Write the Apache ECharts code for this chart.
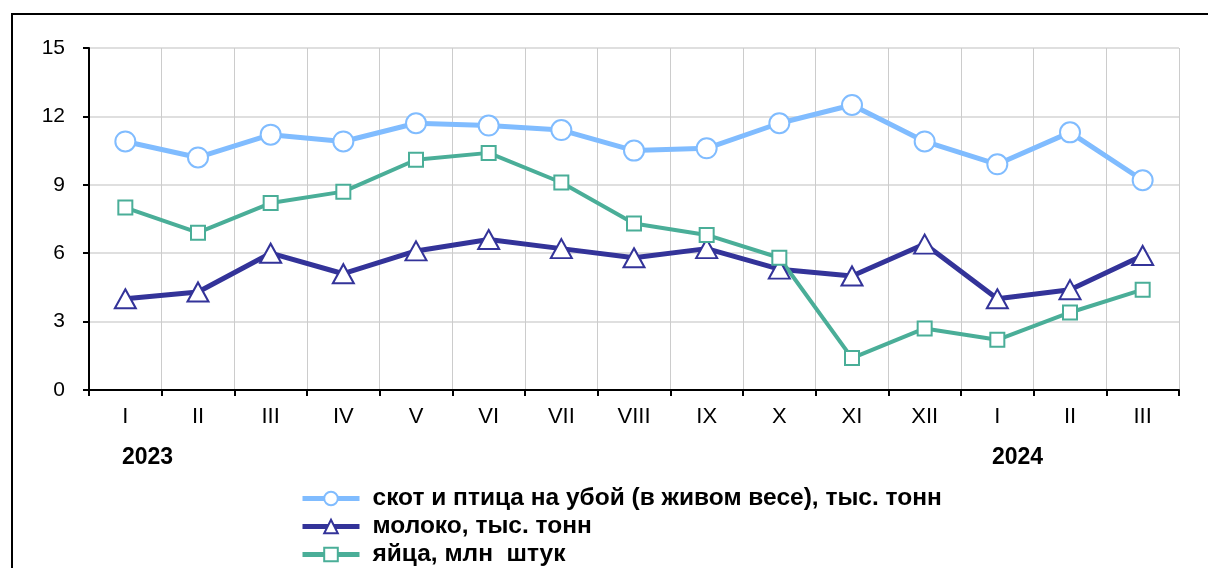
<!DOCTYPE html>
<html><head><meta charset="utf-8">
<script src="https://cdn.jsdelivr.net/npm/echarts@6/dist/echarts.min.js"></script>
<style>html,body{margin:0;padding:0;background:#fff}#c{width:1208px;height:568px}</style>
</head><body><div id="c"></div>
<script>
const categories = ['I','II','III','IV','V','VI','VII','VIII','IX','X','XI','XII','I','II','III'];
const yearLabels = ['2023','2024'];
const livestock = [10.9,10.2,11.2,10.9,11.7,11.6,11.4,10.5,10.6,11.7,12.5,10.9,9.9,11.3,9.2];
const milk = [4.0,4.3,6.0,5.1,6.1,6.6,6.2,5.8,6.2,5.3,5.0,6.4,4.0,4.4,5.9];
const eggs = [8.0,6.9,8.2,8.7,10.1,10.4,9.1,7.3,6.8,5.8,1.4,2.7,2.2,3.4,4.4];
const seriesNames = ['скот и птица на убой (в живом весе), тыс. тонн','молоко, тыс. тонн','яйца, млн  штук'];

const chart = echarts.init(document.getElementById('c'), null, {renderer:'canvas'});
const font = 'Arial, "Liberation Sans", sans-serif';
const legendTops = [481, 509, 537];
const legends = seriesNames.map((n, i) => ({
  orient:'vertical', left:295, top:legendTops[i], itemWidth:57, itemHeight:17,
  lineStyle:{width:5},
  textStyle:{color:'#000',fontSize:24.5,fontWeight:'bold',fontFamily:font,padding:[0,0,0,8]},
  data:[n]
}));
chart.setOption({
  animation:false,
  backgroundColor:'#fff',
  grid:{left:89,right:29,top:48,bottom:178},
  xAxis:{type:'category',data:categories,boundaryGap:true,
    axisLine:{lineStyle:{color:'#000',width:2}},
    axisTick:{show:true,length:6,lineStyle:{color:'#000',width:2}},
    axisLabel:{color:'#000',fontSize:22,fontFamily:font,margin:16},
    splitLine:{show:true,lineStyle:{color:'#cccccc',width:1}}},
  yAxis:{type:'value',min:0,max:15,interval:3,
    axisLine:{show:true,lineStyle:{color:'#000',width:2}},
    axisTick:{show:true,length:6,lineStyle:{color:'#000',width:2}},
    axisLabel:{color:'#000',fontSize:21,fontFamily:font,margin:24},
    splitLine:{show:true,lineStyle:{color:'#d4d4d4',width:1.5}}},
  legend:legends,
  graphic:[
    {type:'rect',shape:{x:12,y:14,width:1220,height:580},style:{fill:'none',stroke:'#000',lineWidth:2},silent:true},
    {type:'text',left:122,top:446,style:{text:yearLabels[0],font:'bold 23px '+font,fill:'#000'}},
    {type:'text',left:992,top:446,style:{text:yearLabels[1],font:'bold 23px '+font,fill:'#000'}}
  ],
  series:[
    {name:seriesNames[0],type:'line',data:livestock,symbol:'circle',symbolSize:20,
      lineStyle:{color:'#80bcff',width:5},itemStyle:{color:'#fff',borderColor:'#80bcff',borderWidth:2},color:'#80bcff'},
    {name:seriesNames[1],type:'line',data:milk,symbol:'triangle',symbolSize:[21,19],
      lineStyle:{color:'#333399',width:5},itemStyle:{color:'#fff',borderColor:'#333399',borderWidth:2},color:'#333399'},
    {name:seriesNames[2],type:'line',data:eggs,symbol:'rect',symbolSize:14,
      lineStyle:{color:'#4aae98',width:4},itemStyle:{color:'#fff',borderColor:'#4aae98',borderWidth:2},color:'#4aae98'}
  ]
});
</script></body></html>
